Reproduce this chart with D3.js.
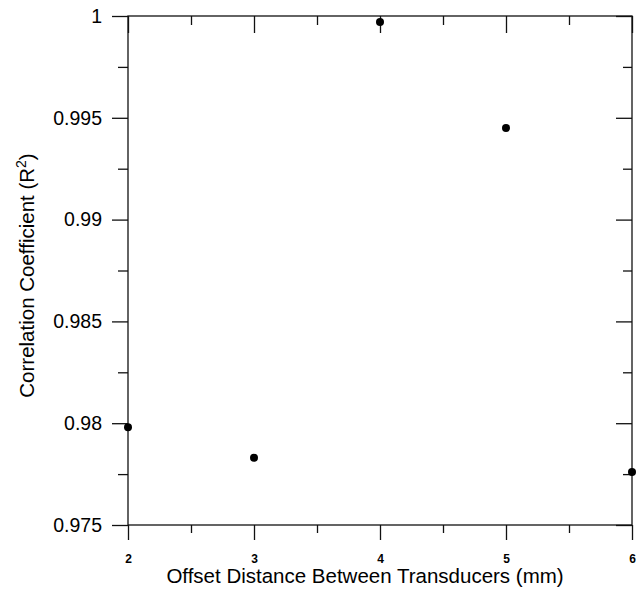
<!DOCTYPE html>
<html><head><meta charset="utf-8">
<script src="https://cdn.jsdelivr.net/npm/d3@7"></script>
<style>body{margin:0;background:#fff}svg{display:block}text{font-family:Arial,"Liberation Sans",sans-serif;fill:#000}</style>
</head><body>
<svg id="c" width="636" height="591"></svg>
<script>
const offsets = [2, 3, 4, 5, 6];
const r2 = [0.9798, 0.9783, 0.9997, 0.9945, 0.9776];
const xTicks = [2, 3, 4, 5, 6];
const yTicks = [0.975, 0.98, 0.985, 0.99, 0.995, 1];
const yTickLabels = ["0.975", "0.98", "0.985", "0.99", "0.995", "1"];

const svg = d3.select("#c");
const L = 128, R = 632, T = 16, B = 525;
const x = d3.scaleLinear().domain([2, 6]).range([L, R]);
const y = d3.scaleLinear().domain([0.975, 1]).range([B, T]);
const xMinor = d3.range(2.5, 6, 1);
const yMinor = d3.range(0, 5).map(i => 0.9775 + i * 0.005);

// bottom axis (outward ticks)
const gB = svg.append("g").attr("transform", `translate(0,${B})`)
  .call(d3.axisBottom(x).tickValues(xTicks).tickSize(15).tickPadding(14).tickFormat(d3.format("d")));
gB.append("g").call(d3.axisBottom(x).tickValues(xMinor).tickSize(8).tickFormat(""));
// top axis (inward ticks)
const gT = svg.append("g").attr("transform", `translate(0,${T})`)
  .call(d3.axisBottom(x).tickValues(xTicks).tickSize(17).tickFormat(""));
gT.append("g").call(d3.axisBottom(x).tickValues(xMinor).tickSize(9).tickFormat(""));
// left axis (outward)
const gL = svg.append("g").attr("transform", `translate(${L},0)`)
  .call(d3.axisLeft(y).tickValues(yTicks).tickSize(16).tickPadding(10).tickFormat((d, i) => yTickLabels[i]));
gL.append("g").call(d3.axisLeft(y).tickValues(yMinor).tickSize(10).tickFormat(""));
// right axis (inward)
const gR = svg.append("g").attr("transform", `translate(${R},0)`)
  .call(d3.axisLeft(y).tickValues(yTicks).tickSize(16).tickFormat(""));
gR.append("g").call(d3.axisLeft(y).tickValues(yMinor).tickSize(9).tickFormat(""));

svg.selectAll(".domain").remove();
svg.selectAll(".tick line").attr("stroke", "#111").attr("stroke-width", 1.3);
svg.append("rect").attr("x", L).attr("y", T).attr("width", R - L).attr("height", B - T)
  .attr("fill", "none").attr("stroke", "#111").attr("stroke-width", 1.3);

gB.selectAll(".tick text").attr("font-size", 12).attr("font-weight", "bold").attr("font-family", "Arial,'Liberation Sans',sans-serif").attr("fill", "#000");
gL.selectAll(".tick text").attr("font-size", 19.5).attr("font-family", "Arial,'Liberation Sans',sans-serif").attr("fill", "#000");

svg.append("g").selectAll("circle").data(offsets).join("circle")
  .attr("cx", d => x(d)).attr("cy", (d, i) => y(r2[i])).attr("r", 4).attr("fill", "#000");

svg.append("text").attr("x", 365).attr("y", 583).attr("text-anchor", "middle")
  .attr("font-size", 20.5).text("Offset Distance Between Transducers (mm)");
const yt = svg.append("text").attr("transform", `translate(34,${(T + B) / 2 + 5}) rotate(-90)`)
  .attr("text-anchor", "middle").attr("font-size", 20.5);
yt.append("tspan").text("Correlation Coefficient (R");
yt.append("tspan").attr("font-size", 14).attr("dy", -8).text("2");
yt.append("tspan").attr("dy", 8).text(")");
</script>
</body></html>
